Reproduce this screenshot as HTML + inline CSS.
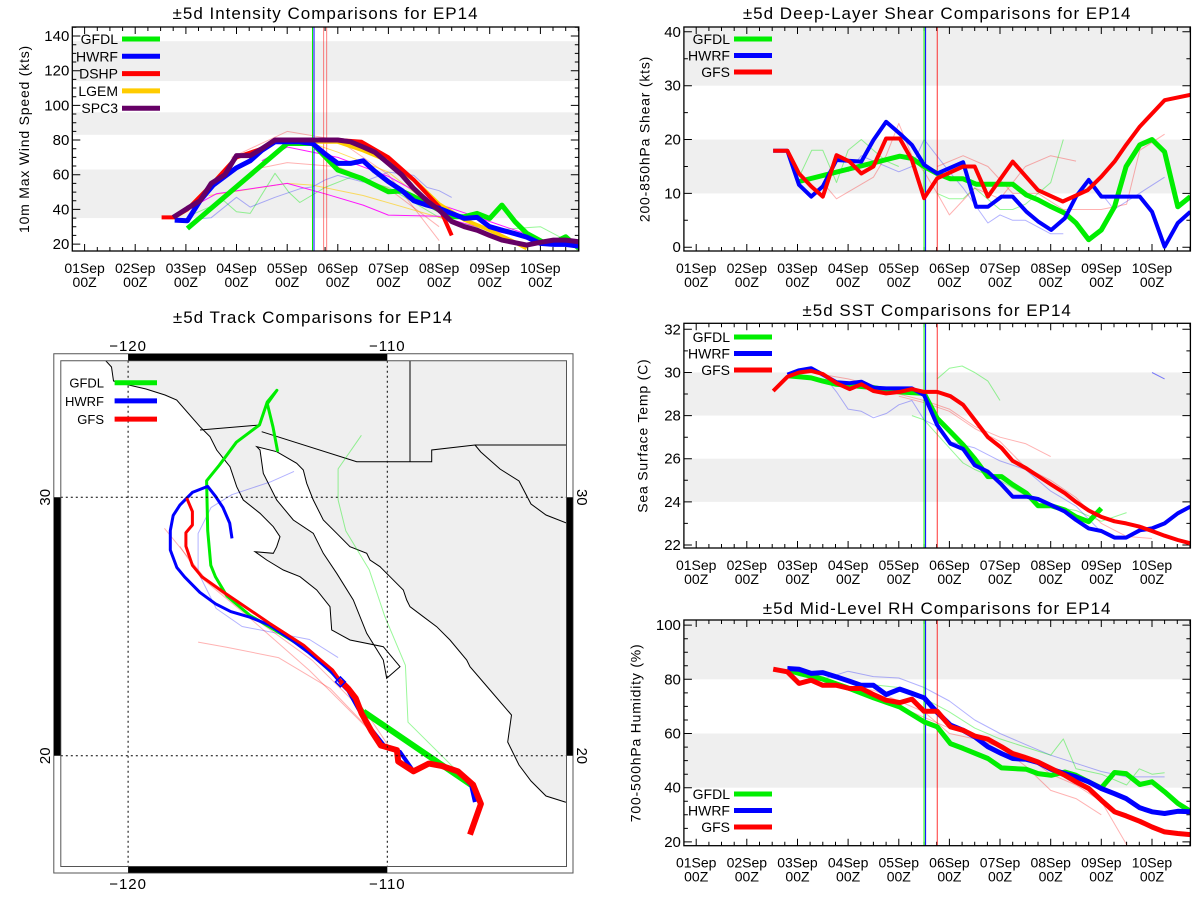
<!DOCTYPE html>
<html><head><meta charset="utf-8">
<style>
html,body{margin:0;padding:0;background:#fff;}
svg{display:block;font-family:"Liberation Sans",sans-serif;}
</style></head>
<body>
<svg id="root" width="1200" height="900" viewBox="0 0 1200 900" xmlns="http://www.w3.org/2000/svg"></svg>
<script>
// ---------- DATA ----------
// x values are days since 01Sep 00Z
const dayLabels = ["01Sep","02Sep","03Sep","04Sep","05Sep","06Sep","07Sep","08Sep","09Sep","10Sep"];
const intTicks = [20,40,60,80,100,120,140];
const shearTicks = [0,10,20,30,40];
const sstTicks = [22,24,26,28,30,32];
const rhTicks = [20,40,60,80,100];

// Intensity
const intGfdlT = [2.03,4.0,4.5,5.0,5.47,6.0,6.26,6.5,6.76,7.0,7.25,7.5,7.75,8.0,8.24,8.5,8.73,9.04,9.26,9.5,9.76];
const intGfdlV = [29,78,78,62.7,57.9,50.2,50.6,47.3,43.5,39.6,35.8,35.8,37.7,34.8,42.5,32.9,26.2,21.3,20.8,24.2,17.5];
const intHwrfT = [1.78,2.03,2.28,2.54,2.77,3.0,3.27,3.5,3.76,4.0,4.24,4.5,4.75,5.0,5.25,5.5,5.73,6.0,6.26,6.5,6.76,7.0,7.25,7.5,7.75,8.0,8.24,8.5,8.73,9.0,9.26,9.5,9.76];
const intHwrfV = [33.8,33.5,45,54,59,64,68,74,79,79,79,78,72,66.5,66.5,68,62,56,51,45,42.5,40.6,37.7,34.8,35.4,30,28,26,24,20.4,19.8,19.8,18.8];
const intDshpT = [1.52,1.75,2.03,2.5,3.0,3.5,3.76,4.5,5.0,5.47,6.0,6.5,7.0,7.25];
const intDshpV = [35.4,35.4,40,54,70,75,80,80,80,79,70,57,41.5,25];
const intLgemT = [1.75,2.03,2.5,3.0,3.5,3.76,4.5,5.0,5.5,6.0,6.5,7.0,7.5,8.0,8.5,8.73];
const intLgemV = [35,40,54,70,75,79,79,79,74,68,57,43,34,28,21,17.5];
const intSpcT = [1.75,2.03,2.28,2.5,2.77,3.0,3.27,3.5,3.76,4.0,4.5,5.0,5.25,5.5,5.73,6.0,6.26,6.5,6.76,7.0,7.25,7.5,7.75,8.0,8.24,8.5,8.73,9.0,9.26,9.5,9.76];
const intSpcV = [35.4,40.6,45,55,60,71,71,75,80,80,80,80,79,76,73,66.5,60,52,45,39.6,33,30,28,25,22.3,20.8,19.4,21,22.3,22.3,21.3];
const intMag1T = [1.78,2.6,4.0,4.75,5.5,6.0,7.0,8.0,9.0,9.76];
const intMag1V = [35.8,49,55,49,42.5,36.7,36,28,22.3,19.4];
const intMag2T = [3.5,4.0,5.0,6.0,7.0,8.0,9.0];
const intMag2V = [68,76,70,59,43,33,23];
const intPink1T = [2.9,4.0,5.0,6.0,7.0];
const intPink1V = [70,85,80,60,22];
const intPink2T = [3.5,4.0,5.0,6.0,7.0];
const intPink2V = [64,67,64.6,52,30];
const intLgrnT = [2.03,2.75,3.0,3.27,3.76,4.03,4.25,4.75,5.25,6.0,7.0,8.0,9.0,9.5];
const intLgrnV = [35.8,45,38.6,37.7,60.8,50,44,52.7,58.5,52.7,35.4,28,30,22.3];
const intLblu1T = [2.28,2.5,3.0,3.27,3.76,4.25,4.5,4.75,5.0,5.5,6.0,6.5,6.76,7.0,7.25];
const intLblu1V = [34.6,35.2,47,41.3,47,51.9,53,57,59.6,55.8,61.5,59.6,52.7,50.8,46.9];
const intOrng1T = [2.45,4.0,4.5,5.5,7.0,8.0];
const intOrng1V = [48,55,54,48,35.4,25.8];
const intOrng2T = [4.5,5.0,6.0,7.0];
const intOrng2V = [78,73,61.5,38.6];

// Shear
const shGfdlT = [2.03,4.02,4.26,4.5,4.76,5.02,5.27,5.53,5.76,6.25,6.52,6.75,7.01,7.28,7.5,7.75,8.0,8.26,8.49,8.76,9.0,9.25,9.51,9.76];
const shGfdlV = [12.2,16.9,16.5,15,13.7,12.7,12.7,11.7,11.7,11.7,9.7,8.8,7.5,6.3,4.5,1.4,3.2,7.5,15,19,20,17.7,7.5,9.4];
const shHwrfT = [1.52,1.8,2.03,2.27,2.5,2.77,3.26,3.5,3.75,4.02,4.26,4.5,4.76,5.27,5.53,5.76,6.03,6.25,6.52,6.75,7.01,7.28,7.5,7.75,8.0,8.49,8.76,9.0,9.25,9.51,9.76];
const shHwrfV = [17.9,17.9,11.6,9.4,11.3,16.2,15.9,19.9,23.3,21.1,19,15.3,13.7,15.8,7.5,7.5,9.4,9.4,6.6,4.8,3.2,5.4,9.4,12.5,9.4,9.4,9.4,6.6,0.1,4.5,6.6];
const shGfsT = [1.52,1.8,2.03,2.27,2.5,2.77,3.03,3.26,3.5,3.75,4.02,4.26,4.5,4.76,5.27,5.5,5.76,6.25,6.75,7.24,7.73,8.0,8.26,8.49,8.76,9.25,9.76];
const shGfsV = [17.9,17.9,13.7,11.3,9.4,17.1,15.9,13.7,15,20.2,20.2,16.2,9.1,12.8,15,15,9.4,15.9,10.6,8.5,10.6,13.1,15.9,19,22.4,27.3,28.3];
const shLgrnT = [2.03,2.28,2.5,2.77,3.0,3.26,3.5,3.75,4.0];
const shLgrnV = [13,18,18,12,18,20,18,16,15];
const shLgrn2T = [4.76,5.0,5.27,5.5,6.0,6.25,6.5,7.0,7.25];
const shLgrn2V = [10,9,9,11,7,7,8,12,20];
const shLblu1T = [3.0,3.26,3.5,4.0,4.26,4.5,5.0,5.27,5.76,6.0,6.25,6.5,7.0,7.25];
const shLblu1V = [14,17,16,14,15,20,14,11,4.5,6,5,5,2.5,2.5];
const shLblu2T = [8.0,8.25,8.75,9.25];
const shLblu2V = [10,7,10,13];
const shPinkT = [2.5,2.77,3.5,3.75,4.0,4.26,4.5,4.76,5.0,5.5,6.0,6.5,7.0,7.5];
const shPinkV = [12,9,13,17,23,17,14,10,6,11,9,15,17,16];
const shPink2T = [4.76,5.27,5.76,6.25,6.75,7.25,7.76,8.0,8.5,8.76,9.25];
const shPink2V = [15,17,15,10,10,7,7,7,8,18,21];

// SST
const sstGfdlT = [1.8,2.03,2.27,2.5,2.77,3.03,3.5,4.0,4.5,4.76,5.02,5.27,5.5,5.76,6.03,6.25,6.52,6.75,7.01,7.28,7.5,7.75,8.0];
const sstGfdlV = [29.85,29.8,29.75,29.6,29.45,29.4,29.3,29.1,29.03,27.87,27.25,26.64,26.0,25.17,25.17,24.8,24.4,23.82,23.82,23.62,23.3,23.08,23.7];
const sstHwrfT = [1.8,2.03,2.27,2.5,2.77,3.03,3.26,3.5,3.75,4.26,4.5,4.76,5.02,5.27,5.5,5.76,6.03,6.25,6.52,6.75,7.01,7.28,7.5,7.75,8.0,8.26,8.49,8.76,9.0,9.25,9.51,9.76];
const sstHwrfV = [29.9,30.1,30.2,29.9,29.55,29.5,29.57,29.3,29.26,29.26,28.95,27.56,26.7,26.45,25.7,25.4,24.8,24.24,24.24,24.13,23.85,23.55,23.16,22.77,22.65,22.34,22.34,22.68,22.77,23.0,23.47,23.78];
const sstGfsT = [1.52,1.8,2.03,2.27,2.5,2.77,3.03,3.26,3.5,3.75,4.02,4.26,4.5,4.76,5.02,5.27,5.5,5.76,6.03,6.25,6.52,6.75,7.01,7.28,7.5,7.75,8.0,8.26,8.49,8.76,9.0,9.25,9.51,9.76];
const sstGfsV = [29.14,29.8,30.0,30.07,29.93,29.5,29.23,29.45,29.14,29.03,29.1,29.23,29.1,29.1,28.9,28.5,27.8,27.0,26.5,25.9,25.55,25.2,24.8,24.4,24.0,23.6,23.3,23.1,23.0,22.85,22.65,22.43,22.23,22.08];
const sstLgrnT = [4.76,5.0,5.25,5.5,5.76,6.0];
const sstLgrnV = [29.7,30.2,30.3,30.0,29.6,28.7];
const sstLgrn2T = [4.26,4.5,5.0,5.27,5.5,6.0,6.5,7.0,7.5,8.0,8.5];
const sstLgrn2V = [28.0,27.8,26.5,25.8,25.5,25.0,24.3,23.8,23.6,23.1,23.5];
const sstLbluT = [2.5,2.77,3.0,3.26,3.5,3.76,4.0,4.26,4.5,4.76,5.0,5.5,6.0,6.5,7.0,7.5,8.0];
const sstLbluV = [29.9,29.1,28.3,28.2,27.9,28.1,28.5,28.7,27.8,27.5,26.8,26.5,25.9,25.5,24.5,23.8,22.6];
const sstLblu2T = [9.0,9.25];
const sstLblu2V = [30.0,29.7];
const sstPinkT = [2.5,3.0,3.5,4.0,4.5,5.0,5.5,6.0,6.5,7.0];
const sstPinkV = [29.9,29.7,29.4,29.0,28.7,28.3,27.5,27.0,26.7,26.1];
const sstPink2T = [4.0,4.5,5.0,5.5,6.0,6.5,7.0,7.5,8.0,8.5,9.0];
const sstPink2V = [28.9,28.6,28.2,27.4,26.8,25.6,25.0,24.2,23.0,22.4,22.3];

// RH
const rhGfdlT = [1.8,2.03,2.5,3.03,3.5,4.02,4.5,4.76,5.02,5.27,5.76,6.03,6.52,6.75,7.01,7.28,7.5,7.75,8.0,8.26,8.49,8.76,9.0,9.25,9.51,9.76];
const rhGfdlV = [83.4,82.2,80.1,76.6,73.2,69.8,64.3,62.5,56.3,54.5,50.8,47.3,46.8,45.2,44.6,45.8,44.6,42.2,39.9,45.6,45.2,41.2,42.2,38.5,34.2,31.3];
const rhHwrfT = [1.8,2.03,2.27,2.5,2.77,3.03,3.26,3.5,3.75,4.02,4.26,4.5,4.76,5.02,5.27,5.5,5.76,6.03,6.25,6.52,6.75,7.01,7.28,7.5,7.75,8.0,8.26,8.49,8.76,9.0,9.25,9.51,9.76];
const rhHwrfV = [84,83.75,82.2,82.5,80.9,79.3,77.8,77.8,74.4,76.4,74.8,73.2,67.8,63.1,61.2,58.8,55.1,52.6,50.8,50.5,49.3,46.8,45.2,44,42.2,39.7,37.8,36,32.6,31.1,30.5,31.3,31.1];
const rhGfsT = [1.52,1.8,2.03,2.27,2.5,2.77,3.03,3.26,3.5,3.75,4.02,4.26,4.5,4.76,5.02,5.27,5.5,5.76,6.03,6.25,6.52,6.75,7.01,7.28,7.5,7.75,8.0,8.26,8.49,8.76,9.0,9.25,9.51,9.76];
const rhGfsV = [83.75,82.8,78.5,79.7,77.8,77.8,76.6,76.6,74.4,72.3,71.4,72.7,68.2,68.2,62.5,61.2,59.1,57.9,55.1,52.6,51,49.5,47.1,44.6,42.2,39.7,35.4,31.1,29.6,27.6,25.5,23.7,23.1,22.7];
const rhLbluT = [2.5,3.0,3.5,4.0,4.5,5.0,5.5,6.0,6.5,7.0,7.5,8.0,8.5,9.0,9.25];
const rhLbluV = [80,83,81,80.5,77,72,65,60,56,52,49,46,44,44,44];
const rhLgrnT = [3.5,4.0,4.5,5.0,5.5,6.0,6.5,7.0,7.25,7.5,8.0,8.5,8.75,9.0,9.25];
const rhLgrnV = [78,77,73,68,62,58,55,52,58,47,45,41,47,45,45.5];
const rhPinkT = [2.5,3.0,3.5,4.0,4.5,5.0,5.5,6.0,6.5,7.0,7.5,8.0,8.5];
const rhPinkV = [78,77,76,72,68,60,58,55,52,45,41,35,19];
const rhPink2T = [4.0,4.5,5.0,5.5,6.0,6.5,7.0,7.5,8.0];
const rhPink2V = [70,66,62,59,55,48,39,36,30];

// Track (lon, lat)
const trkGfsLon = [-106.81,-106.39,-106.69,-107.28,-107.88,-108.40,-108.99,-109.58,-109.63,-110.25,-110.62,-110.99,-111.22,-111.51,-111.81];
const trkGfsLat = [16.95,18.14,18.88,19.40,19.60,19.70,19.40,19.78,20.22,20.40,20.97,21.64,22.23,22.60,22.90];
const trkGfs2Lon = [-111.81,-112.11,-112.70,-113.22,-114.55,-116.34,-117.15,-117.52,-117.77,-117.77,-117.52,-117.52,-117.74];
const trkGfs2Lat = [22.90,23.32,23.82,24.27,25.13,26.35,26.92,27.37,28.11,28.63,28.93,29.45,29.97];
const trkHwrfLon = [-106.62,-106.77,-107.28,-107.88,-108.40,-108.99,-109.51,-110.10,-110.70,-111.14,-111.51,-111.81];
const trkHwrfLat = [18.21,18.88,19.40,19.60,19.70,19.40,20.15,20.37,21.12,21.86,22.53,22.83];
const trkHwrf2Lon = [-111.81,-112.18,-112.63,-113.07,-113.66,-114.55,-115.30,-116.04,-116.63,-117.23,-117.82,-118.12,-118.37,-118.37,-118.26,-118.00,-117.52,-116.93,-116.63,-116.34,-116.08,-115.99];
const trkHwrf2Lat = [22.83,23.27,23.65,24.02,24.46,25.06,25.36,25.58,25.88,26.32,26.92,27.29,27.96,28.71,29.30,29.70,30.19,30.42,30.04,29.60,29.00,28.41];
const trkGfdlLon = [-106.77,-110.92];
const trkGfdlLat = [18.88,21.71];
const trkGfdl2Lon = [-110.92,-111.22,-111.81,-113.07,-114.55,-115.30,-116.19,-116.63,-116.81,-116.93,-116.97,-116.48,-115.82,-114.93,-114.63,-114.26,-114.63,-114.41,-114.23];
const trkGfdl2Lat = [21.71,22.16,22.90,24.09,24.99,25.43,26.18,26.92,27.37,28.71,30.64,31.24,32.13,32.80,33.69,34.14,33.62,32.72,31.76];
const trkLgrnLon = [-106.77,-109.2,-109.3,-110.1,-110.7,-111.6,-111.9,-111.9,-111.0];
const trkLgrnLat = [18.88,21.3,23.5,25.4,27.2,28.7,29.9,31.1,32.4];
const trkLbluLon = [-111.9,-113.0,-115.6,-116.6,-117.3,-117.3,-116.8,-116.0,-114.5,-113.6];
const trkLbluLat = [23.8,24.5,25.0,25.7,27.1,28.6,29.6,30.1,30.6,31.0];
const trkPink1Lon = [-109.9,-110.7,-112.9,-115.1,-116.9,-117.7,-118.6];
const trkPink1Lat = [20.3,21.5,23.7,25.3,26.7,27.7,28.8];
const trkPink2Lon = [-110.0,-112.2,-114.2,-116.2,-117.3];
const trkPink2Lat = [20.3,22.6,23.8,24.2,24.4];
const trkPink3Lon = [-110.5,-113.0,-115.5,-117.2,-118.0];
const trkPink3Lat = [20.8,23.3,25.5,26.9,28.1];

// ---------- DRAWING ----------
const NS = "http://www.w3.org/2000/svg";
const root = document.getElementById("root");
function el(tag, parent){ const e=document.createElementNS(NS,tag); parent.appendChild(e); return e; }
function setA(e, o){ for(const k in o) e.setAttribute(k,o[k]); return e; }

const PPD = 50.64;
function makeChart(name, X0, yTop, yBot, vTop, vBot, ticks, minorStep, bands, title, titleY, ytitle, ytOff){
  const g = el("g", root);
  
  
  const left = X0 - 12.3, right = X0 + 494.2;
  const xs = d => X0 + d*PPD;
  const ys = v => yBot - (v - vBot)*(yBot-yTop)/(vTop-vBot);
  bands.forEach(b=>{
    const r = el("rect", g);
    
    
    const t = Math.min(vTop,b[1]);
    setA(r,{x:left,y:ys(t),width:right-left,height:ys(b[0])-ys(t),fill:"#efefef"});
  });
  const t = el("text", g);
  
  
  setA(t,{x:(left+right)/2,y:titleY,"text-anchor":"middle","font-size":"17","letter-spacing":"1"}); t.textContent=title;
  const yt = el("text", g);
  
  
  const cx = left-ytOff, cy=(yTop+yBot)/2;
  setA(yt,{x:cx,y:cy,"text-anchor":"middle","dominant-baseline":"middle","font-size":"14",transform:`rotate(-90 ${cx} ${cy})`,"letter-spacing":"0.8"}); yt.textContent=ytitle;
  const tk = el("path", g);
  
  
  let d="";
  for(let v=Math.ceil(vBot/minorStep)*minorStep; v<=vTop+1e-6; v+=minorStep){
    const major = ticks.indexOf(Math.round(v*100)/100)>=0;
    const L = major?8:4, y=ys(v).toFixed(1);
    d+=`M${left} ${y}h${L}M${right} ${y}h${-L}`;
  }
  for(let q=0;q<=40;q++){
    const day=q/4; const x=xs(day); if(x>right) break;
    const L = q%4===0?7:4;
    d+=`M${x.toFixed(1)} ${yBot}v${-L}M${x.toFixed(1)} ${yTop}v${L}`;
  }
  setA(tk,{d:d,stroke:"#000","stroke-width":1,fill:"none"});
  ticks.forEach(v=>{
    const tl = el("text", g);
    
    
    setA(tl,{x:left-3,y:ys(v)+5,"text-anchor":"end","font-size":"15"}); tl.textContent=v;
  });
  dayLabels.forEach((lab,i)=>{
    const x=xs(i);
    const a = el("text", g);
    
    
    setA(a,{x:x,y:yBot+22,"text-anchor":"middle","font-size":"14"}); a.textContent=lab;
    const b = el("text", g);
    
    
    setA(b,{x:x,y:yBot+36,"text-anchor":"middle","font-size":"14"}); b.textContent="00Z";
  });
  const clipId = name+"-clip";
  const cp = el("clipPath", g); cp.setAttribute("id",clipId);
  setA(el("rect",cp),{x:left,y:yTop,width:right-left,height:yBot-yTop});
  const plot = el("g", g); plot.setAttribute("clip-path",`url(#${clipId})`);
  
  
  const frame = el("rect", g);
  
  
  setA(frame,{x:left,y:yTop,width:right-left,height:yBot-yTop,fill:"none",stroke:"#000","stroke-width":1.3});
  return {g, plot, xs, ys, left, right, yTop, yBot};
}
function series(c, T, V, color, w, op, nm){
  const p = el("polyline", c.plot);
  
  
  setA(p,{points:T.map((t,i)=>c.xs(t).toFixed(1)+","+c.ys(V[i]).toFixed(1)).join(" "),fill:"none",stroke:color,"stroke-width":w,"stroke-opacity":op,"stroke-linejoin":"round"});
}
function vlines(c, list){
  list.forEach(v=>{
    const l = el("line", c.plot);
    
    
    setA(l,{x1:c.xs(v[0]),x2:c.xs(v[0]),y1:c.yTop,y2:c.yBot,stroke:v[1],"stroke-width":1,"stroke-opacity":v[2]||1});
  });
}
function legend(c, entries, x0, y0, dy){
  const lg = el("g", c.g);
  
  
  entries.forEach((e,i)=>{
    const y=y0+i*dy;
    const t=el("text",lg);
    
    
    setA(t,{x:x0+34,y:y+5,"text-anchor":"end","font-size":"14"}); t.textContent=e[0];
    const l=el("line",lg);
    
    
    setA(l,{x1:x0+38,x2:x0+76,y1:y,y2:y,stroke:e[1],"stroke-width":5});
  });
}
const G="#00ee00",B="#0000ff",R="#ff0000",Y="#ffcc00",P="#660066",M="#ff00ff";

// Intensity
const ci = makeChart("intensity-chart",84.6,27,251,145.2,16,intTicks,5,[[35,63],[83,96],[114,137]],"±5d Intensity Comparisons for EP14",19,"10m Max Wind Speed (kts)",47);
series(ci,intLgrnT,intLgrnV,G,1,0.4,"gfdl-thin");
series(ci,intLblu1T,intLblu1V,B,1,0.3,"hwrf-thin");
series(ci,intPink1T,intPink1V,R,1,0.3,"dshp-thin-1");
series(ci,intPink2T,intPink2V,R,1,0.3,"dshp-thin-2");
series(ci,intOrng1T,intOrng1V,Y,1,0.6,"lgem-thin-1");
series(ci,intOrng2T,intOrng2V,Y,1,0.6,"lgem-thin-2");
series(ci,intMag1T,intMag1V,M,1,0.9,"spc3-thin-1");
series(ci,intMag2T,intMag2V,M,1,0.9,"spc3-thin-2");
vlines(ci,[[4.5,G],[4.53,B],[4.72,R,0.5],[4.78,R,0.5]]);
series(ci,intGfdlT,intGfdlV,G,5,1,"gfdl-intensity");
series(ci,intLgemT,intLgemV,Y,4,1,"lgem-intensity");
series(ci,intDshpT,intDshpV,R,4,1,"dshp-intensity");
series(ci,intHwrfT,intHwrfV,B,5,1,"hwrf-intensity");
series(ci,intSpcT,intSpcV,P,5,1,"spc3-intensity");
legend(ci,[["GFDL",G],["HWRF",B],["DSHP",R],["LGEM",Y],["SPC3",P]],84,39,17.3);

// Shear
const cs = makeChart("shear-chart",696.2,27,251,40.9,-0.7,shearTicks,5,[[10,20],[30,41]],"±5d Deep-Layer Shear Comparisons for EP14",19,"200-850hPa Shear (kts)",38);
series(cs,shLgrnT,shLgrnV,G,1,0.4,"gfdl-thin-1");
series(cs,shLgrn2T,shLgrn2V,G,1,0.4,"gfdl-thin-2");
series(cs,shLblu1T,shLblu1V,B,1,0.3,"hwrf-thin-1");
series(cs,shLblu2T,shLblu2V,B,1,0.3,"hwrf-thin-2");
series(cs,shPinkT,shPinkV,R,1,0.3,"gfs-thin-1");
series(cs,shPink2T,shPink2V,R,1,0.3,"gfs-thin-2");
vlines(cs,[[4.5,G],[4.53,B],[4.76,R,0.8]]);
series(cs,shGfdlT,shGfdlV,G,5,1,"gfdl-shear");
series(cs,shHwrfT,shHwrfV,B,4,1,"hwrf-shear");
series(cs,shGfsT,shGfsV,R,4,1,"gfs-shear");
legend(cs,[["GFDL",G],["HWRF",B],["GFS",R]],696,39,16.5);

// SST
const cst = makeChart("sst-chart",696.2,323.3,548,32.28,21.86,sstTicks,1,[[24,26],[28,30]],"±5d SST Comparisons for EP14",316,"Sea Surface Temp (C)",40);
series(cst,sstLgrnT,sstLgrnV,G,1,0.4,"gfdl-thin-1");
series(cst,sstLgrn2T,sstLgrn2V,G,1,0.4,"gfdl-thin-2");
series(cst,sstLbluT,sstLbluV,B,1,0.3,"hwrf-thin-1");
series(cst,sstLblu2T,sstLblu2V,B,1,0.5,"hwrf-thin-2");
series(cst,sstPinkT,sstPinkV,R,1,0.3,"gfs-thin-1");
series(cst,sstPink2T,sstPink2V,R,1,0.3,"gfs-thin-2");
vlines(cst,[[4.5,G],[4.53,B],[4.76,R,0.8]]);
series(cst,sstGfdlT,sstGfdlV,G,5,1,"gfdl-sst");
series(cst,sstHwrfT,sstHwrfV,B,4,1,"hwrf-sst");
series(cst,sstGfsT,sstGfsV,R,4,1,"gfs-sst");
legend(cst,[["GFDL",G],["HWRF",B],["GFS",R]],696,337,16.5);

// RH
const cr = makeChart("rh-chart",696.2,620,845.7,101.9,18.6,rhTicks,5,[[40,60],[80,102]],"±5d Mid-Level RH Comparisons for EP14",614,"700-500hPa Humidity (%)",47);
series(cr,rhLbluT,rhLbluV,B,1,0.3,"hwrf-thin");
series(cr,rhLgrnT,rhLgrnV,G,1,0.4,"gfdl-thin");
series(cr,rhPinkT,rhPinkV,R,1,0.3,"gfs-thin-1");
series(cr,rhPink2T,rhPink2V,R,1,0.3,"gfs-thin-2");
vlines(cr,[[4.5,G],[4.53,B],[4.76,R,0.8]]);
series(cr,rhGfdlT,rhGfdlV,G,5,1,"gfdl-rh");
series(cr,rhHwrfT,rhHwrfV,B,5,1,"hwrf-rh");
series(cr,rhGfsT,rhGfsV,R,5,1,"gfs-rh");
legend(cr,[["GFDL",G],["HWRF",B],["GFS",R]],696,794,16.5);

// ---------- MAP ----------
const mg = el("g", root);


const mt = el("text", mg);


setA(mt,{x:313,y:323,"text-anchor":"middle","font-size":"17","letter-spacing":"1"}); mt.textContent="±5d Track Comparisons for EP14";
const lx = lon => 128.1 + (lon+120)*25.92;
const ly = lat => 497.3 - (lat-30)*25.85;
const IL=60.8, IR=566.5, IT=360.8, IB=866.5;
const cpm = el("clipPath", mg); cpm.setAttribute("id","mapclip");
setA(el("rect",cpm),{x:IL,y:IT,width:IR-IL,height:IB-IT});
const land = el("rect", mg);


setA(land,{x:IL,y:IT,width:IR-IL,height:IB-IT,fill:"#efefef"});
const zg = el("g", mg);
zg.setAttribute("clip-path","url(#mapclip)");
const ocean = el("path", zg);


setA(ocean,{d:"M55 355 L105.8 355 L105.8 360.8 L111.5 367 L113.5 381 L127 384.6 L146 389 L165 395 L176.7 400 L200 426.7 L210 436.7 L216.7 450 L230 466.7 L236.7 486.7 L243.3 500 L260 513.3 L273.3 526.7 L280 536.7 L276.7 546.7 L273.3 553.3 L255 551.7 L266.7 560 L283.3 570 L300 576.7 L316.7 590 L330 606.7 L331.7 630 L350 640 L383.3 646.7 L400 666.7 L386.7 678.3 L383.3 660 L366.7 633.3 L353.3 600 L336.7 573.3 L323.3 553.3 L313.3 533.3 L293.3 520 L276.7 500 L263.3 473.3 L260 450 L256.7 446.7 L276.7 451.7 L296.7 463.3 L303.3 470 L306.7 483.3 L313.3 500 L323.3 520 L336.7 533.3 L350 546.7 L366.7 553.3 L370 560 L380 566.7 L390 576.7 L403.3 590 L406.7 600 L410 606.7 L423.3 616.7 L436.7 626.7 L450 640 L466.7 660 L470 666.7 L490 690 L511.5 715 L507.7 742 L519 765 L531 781 L546 796 L565 802 L572 803 L572 872 L55 872 Z",fill:"#fff",stroke:"#000","stroke-width":1});
const borders = el("path", zg);


setA(borders,{d:"M200 430 L260 425 M261.7 431.7 L356.7 461.7 L431.7 461.7 L431.7 450 L475 445 L566.5 445 M410 360.8 L410 461.7 M566.5 405.8 L566.5 445 M475 445 L480.8 452 L500 469 L519 481 L531 504 L546 515 L566.5 523",fill:"none",stroke:"#000","stroke-width":1});
const grid = el("path", mg);


setA(grid,{d:`M${lx(-120)} ${IT}V${IB}M${lx(-110)} ${IT}V${IB}M${IL} ${ly(30)}H${IR}M${IL} ${ly(20)}H${IR}`,stroke:"#000","stroke-width":1,"stroke-dasharray":"2,3",fill:"none"});
function trk(LON,LAT,color,w,op,nm){
  const p = el("polyline", zg);
  
  
  setA(p,{points:LON.map((o,i)=>lx(o).toFixed(1)+","+ly(LAT[i]).toFixed(1)).join(" "),fill:"none",stroke:color,"stroke-width":w,"stroke-opacity":op,"stroke-linejoin":"round"});
}
trk(trkLgrnLon,trkLgrnLat,G,1,0.4,"gfdl-track-thin");
trk(trkLbluLon,trkLbluLat,B,1,0.3,"hwrf-track-thin");
trk(trkPink1Lon,trkPink1Lat,R,1,0.3,"gfs-track-thin-1");
trk(trkPink2Lon,trkPink2Lat,R,1,0.3,"gfs-track-thin-2");
trk(trkPink3Lon,trkPink3Lat,R,1,0.3,"gfs-track-thin-3");
trk(trkGfdlLon,trkGfdlLat,G,6,1,"gfdl-track-past");
trk(trkGfdl2Lon,trkGfdl2Lat,G,3,1,"gfdl-track");
trk(trkHwrfLon,trkHwrfLat,B,4,1,"hwrf-track-past");
trk(trkHwrf2Lon,trkHwrf2Lat,B,3,1,"hwrf-track");
trk(trkGfsLon,trkGfsLat,R,6,1,"gfs-track-past");
trk(trkGfs2Lon,trkGfs2Lat,R,3,1,"gfs-track");
const dm = el("rect", zg);


setA(dm,{x:lx(-111.81)-3.5,y:ly(22.86)-3.5,width:7,height:7,fill:"none",stroke:B,"stroke-width":1.5,transform:`rotate(45 ${lx(-111.81)} ${ly(22.86)})`});
const fr = el("path", mg);


setA(fr,{d:`M53.8 353.8H573V873H53.8Z M${IL} ${IT}H${IR}V${IB}H${IL}Z`,fill:"none",stroke:"#555","stroke-width":1});
const bars = el("path", mg);


setA(bars,{d:`M${lx(-120)} 354H${lx(-110)}V360.5H${lx(-120)}Z M${lx(-120)} 866.8H${lx(-110)}V872.8H${lx(-120)}Z M54 ${ly(30)}H60.5V${ly(20)}H54Z M566.8 ${ly(30)}H572.8V${ly(20)}H566.8Z`,fill:"#000"});
[[-120,"−120"],[-110,"−110"]].forEach(a=>{
  [351,889].forEach(y=>{
    const t = el("text", mg);
    
    
    setA(t,{x:lx(a[0]),y:y,"text-anchor":"middle","font-size":"15","letter-spacing":"1"}); t.textContent=a[1];
  });
});
[[30,"30"],[20,"20"]].forEach(a=>{
  const y=ly(a[0]);
  const t = el("text", mg);
  
  
  setA(t,{x:46,y:y,"text-anchor":"middle","dominant-baseline":"middle","font-size":"15",transform:`rotate(-90 46 ${y})`}); t.textContent=a[1];
  const t2 = el("text", mg);
  
  
  setA(t2,{x:581,y:y,"text-anchor":"middle","dominant-baseline":"middle","font-size":"15",transform:`rotate(90 581 ${y})`}); t2.textContent=a[1];
});
const mlg = el("g", mg);


[["GFDL",G],["HWRF",B],["GFS",R]].forEach((e,i)=>{
  const y=382.7+i*18.2;
  const t=el("text",mlg);
  
  
  setA(t,{x:104,y:y+5,"text-anchor":"end","font-size":"13"}); t.textContent=e[0];
  const l=el("line",mlg);
  
  
  setA(l,{x1:114.6,x2:157,y1:y,y2:y,stroke:e[1],"stroke-width":5});
});
</script>
</body></html>
